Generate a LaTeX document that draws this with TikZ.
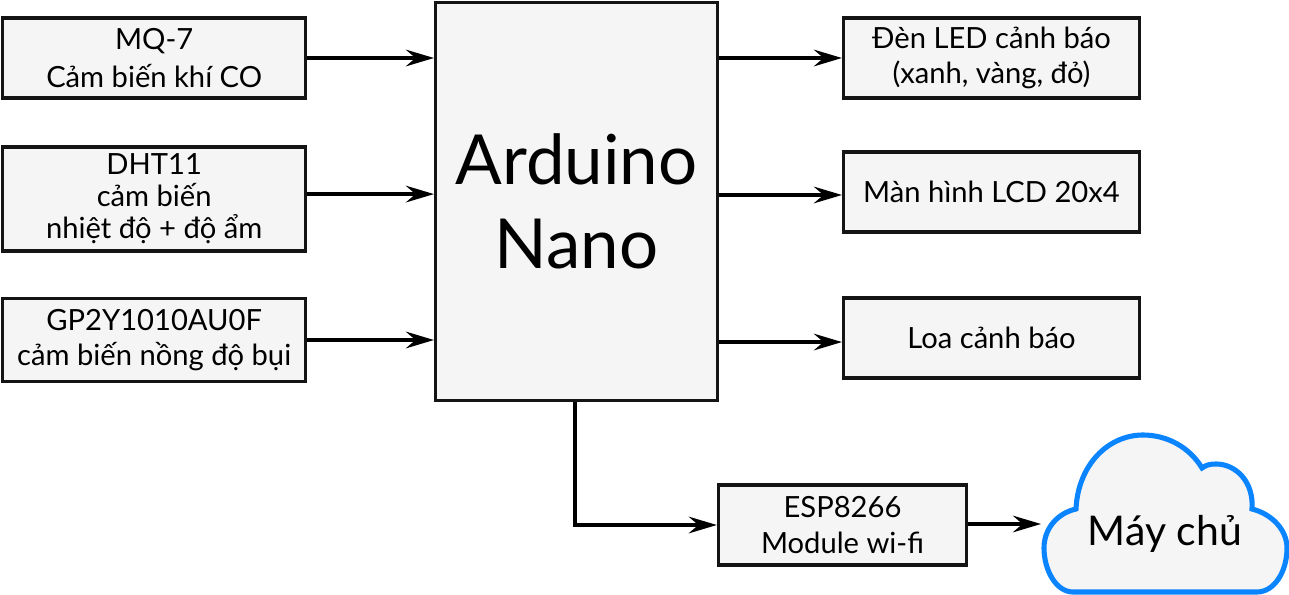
\documentclass[tikz,border=0pt]{standalone}
\usepackage{fontspec}
\setmainfont{Lato}
\usetikzlibrary{arrows.meta}
\definecolor{boxfill}{HTML}{F5F5F5}
\definecolor{boxline}{HTML}{141414}
\definecolor{cloudline}{HTML}{0A84FF}
\tikzset{
  blockbox/.style={draw=boxline,fill=boxfill,line width=1.85pt,align=center,inner sep=0pt,
    font=\fontsize{16.6}{18.2}\selectfont},
  link/.style={-{Stealth[length=16pt,width=9.5pt,inset=5.5pt]},line width=1.85pt,black},
}
\begin{document}
\begin{tikzpicture}[x=0.02cm,y=-0.02cm]
  \useasboundingbox (0,0) rectangle (1289,595);
  % Inputs
  \node[blockbox,minimum width=172.6pt,minimum height=45.4pt] (mq) at (154.2,58) {MQ-7\\[3pt]Cảm biến khí CO};
  \node[blockbox,minimum width=172.6pt,minimum height=59.2pt] (dht) at (154.2,199) {DHT11\\cảm biến\\nhiệt độ + độ ẩm};
  \node[blockbox,minimum width=172.6pt,minimum height=47.6pt] (gp) at (154.2,340) {GP2Y1010AU0F\\[2pt]cảm biến nồng độ bụi};
  % Controller
  \node[blockbox,minimum width=160.4pt,minimum height=226.6pt,font=\fontsize{39.3}{47.6}\selectfont] (ard) at (576.5,201.5) {Arduino\\Nano};
  % Outputs
  \node[blockbox,minimum width=168.4pt,minimum height=45.4pt] (led) at (991.5,58) {Đèn LED cảnh báo\\[2pt](xanh, vàng, đỏ)};
  \node[blockbox,minimum width=168.4pt,minimum height=45.4pt] (lcd) at (991.5,192) {Màn hình LCD 20x4};
  \node[blockbox,minimum width=168.4pt,minimum height=45.4pt] (loa) at (991.5,338) {Loa cảnh báo};
  \node[blockbox,minimum width=141.2pt,minimum height=45.4pt] (esp) at (842.5,525) {ESP8266\\[2pt]Module wi-fi};
  % Cloud
  \draw[cloudline,fill=boxfill,line width=2.9pt] (1073,592) .. controls (1056,592) and (1044,570) .. (1044,548)
    .. controls (1044,528) and (1058,513) .. (1076,509) .. controls (1078,465) and (1108,435) .. (1143,435)
    .. controls (1168,435) and (1190,448) .. (1202,468) .. controls (1206,465) and (1210,464) .. (1216,464)
    .. controls (1236,464) and (1254,482) .. (1252,509) .. controls (1272,514) and (1287,530) .. (1287,548)
    .. controls (1287,572) and (1274,592) .. (1257,592) -- cycle;
  \node[font=\fontsize{23.3}{27}\selectfont,inner sep=0pt] (server) at (1165,534) {Máy chủ};
  \coordinate (serverin) at (1041,524);
  % Connectors
  \draw[link] (mq.east) -- (mq.east -| ard.west);
  \draw[link] ([yshift=2.8pt]dht.east) -- ([yshift=2.8pt]dht.east -| ard.west);
  \draw[link] (gp.east) -- (gp.east -| ard.west);
  \draw[link] (led.west -| ard.east) -- (led.west);
  \draw[link] ([yshift=-1.7pt]lcd.west -| ard.east) -- ([yshift=-1.7pt]lcd.west);
  \draw[link] ([yshift=-2.3pt]loa.west -| ard.east) -- ([yshift=-2.3pt]loa.west);
  \draw[link] (ard.south -| 575,0) |- (esp.west);
  \draw[link] (esp.east |- serverin) -- (serverin);
\end{tikzpicture}
\end{document}
